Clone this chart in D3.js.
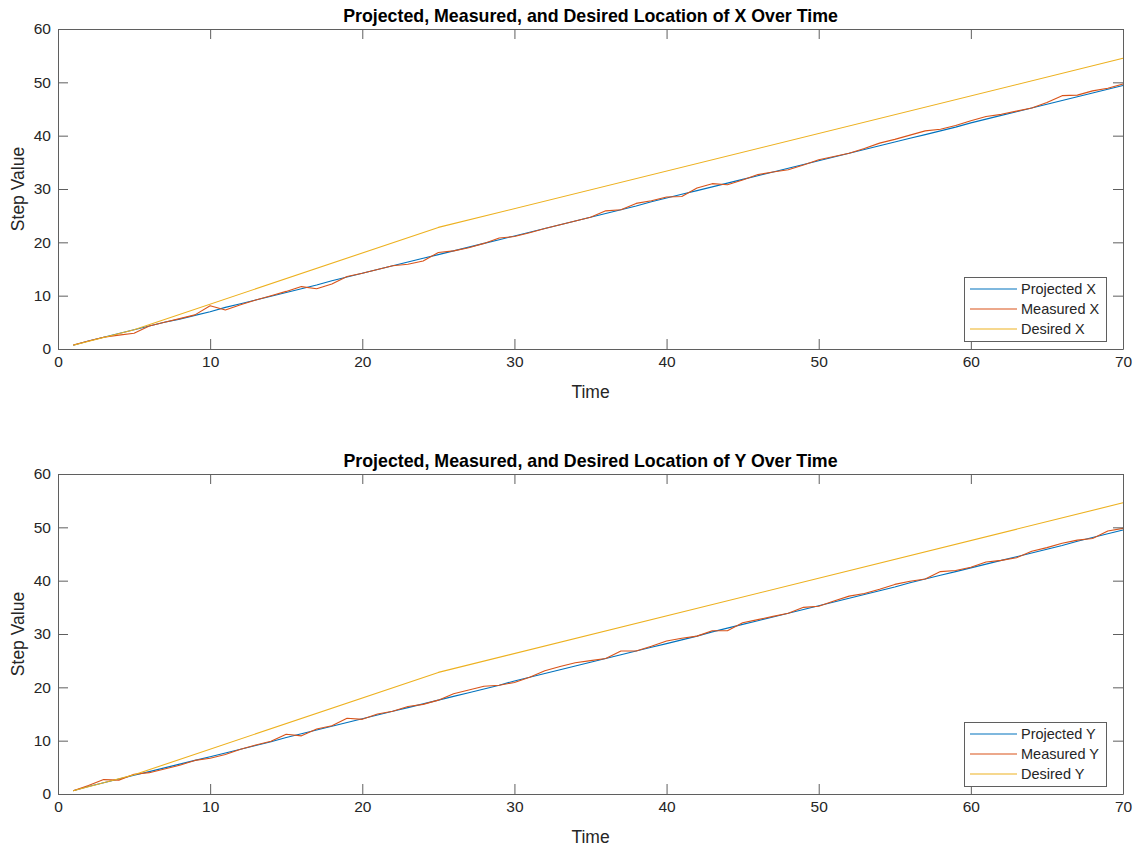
<!DOCTYPE html>
<html>
<head>
<meta charset="utf-8">
<script src="https://cdn.jsdelivr.net/npm/d3@7"></script>
<style>
  body { margin: 0; background: #fff; }
  svg { display: block; font-family: "Liberation Sans", Arial, Helvetica, sans-serif; }
</style>
</head>
<body>
<svg id="chart" width="1138" height="846"></svg>
<script>
// ---------- data ----------
const time = d3.range(1, 71);

const projectedX = [0.7,1.5,2.2,2.9,3.6,4.3,5.0,5.6,6.3,7.0,7.8,8.5,9.2,9.9,10.6,11.3,12.0,12.8,13.5,14.2,
  14.9,15.6,16.3,17.0,17.7,18.4,19.1,19.8,20.5,21.2,21.9,22.6,23.3,24.0,24.7,25.4,26.1,26.8,27.6,28.3,
  29.0,29.7,30.4,31.1,31.8,32.5,33.2,33.9,34.6,35.3,36.0,36.7,37.4,38.1,38.8,39.5,40.2,40.9,41.6,42.4,
  43.1,43.8,44.5,45.2,45.9,46.6,47.3,48.0,48.7,49.4];
const measuredX = [0.75,1.5,2.2,2.6,2.95,4.3,5.0,5.7,6.4,8.1,7.3,8.3,9.2,10.0,10.8,11.7,11.3,12.2,13.6,14.2,
  14.9,15.6,15.9,16.5,18.1,18.4,19.0,19.8,20.8,21.1,21.8,22.6,23.3,24.0,24.7,25.9,26.1,27.3,27.8,28.5,
  28.6,30.2,31.0,30.8,31.7,32.7,33.2,33.6,34.5,35.5,36.1,36.7,37.6,38.6,39.3,40.1,40.9,41.2,41.9,42.8,
  43.6,44.0,44.6,45.2,46.2,47.5,47.6,48.4,48.9,49.7];
const desiredTime = [1, 5, 25, 70];
const desiredX = [0.7, 3.6, 22.8, 54.5];

const projectedY = [0.6,1.4,2.1,2.8,3.5,4.2,4.9,5.6,6.3,7.0,7.7,8.4,9.1,9.8,10.6,11.3,12.0,12.7,13.4,14.1,
  14.8,15.5,16.2,16.9,17.6,18.3,19.0,19.7,20.4,21.2,21.9,22.6,23.3,24.0,24.7,25.4,26.1,26.8,27.5,28.2,
  28.9,29.6,30.4,31.1,31.8,32.5,33.2,33.9,34.6,35.3,36.0,36.7,37.4,38.1,38.8,39.6,40.3,41.0,41.7,42.4,
  43.1,43.8,44.5,45.2,45.9,46.6,47.4,48.1,48.8,49.5];
const measuredY = [0.6,1.6,2.7,2.6,3.7,4.0,4.7,5.4,6.3,6.7,7.4,8.4,9.2,9.9,11.2,10.9,12.2,12.8,14.2,14.0,
  15.0,15.5,16.4,16.8,17.6,18.8,19.5,20.2,20.4,20.9,21.9,23.1,23.9,24.6,25.0,25.4,26.8,26.8,27.7,28.7,
  29.2,29.6,30.6,30.6,32.1,32.7,33.3,33.9,35.0,35.2,36.2,37.1,37.6,38.4,39.3,39.9,40.3,41.7,41.9,42.5,
  43.5,43.8,44.3,45.5,46.2,47.0,47.6,47.9,49.3,49.8];
const desiredY = [0.6, 3.6, 22.8, 54.6];

const xTicks = [0, 10, 20, 30, 40, 50, 60, 70];
const yTicks = [0, 10, 20, 30, 40, 50, 60];

const panels = [
  { title: "Projected, Measured, and Desired Location of X Over Time",
    names: ["Projected X", "Measured X", "Desired X"],
    projected: projectedX, measured: measuredX, desired: desiredX, top: 29 },
  { title: "Projected, Measured, and Desired Location of Y Over Time",
    names: ["Projected Y", "Measured Y", "Desired Y"],
    projected: projectedY, measured: measuredY, desired: desiredY, top: 474 }
];

// ---------- layout ----------
const colors = ["#0072BD", "#D95319", "#EDB120"];
const left = 58, right = 1123, plotH = 320;
const axisColor = "#5f5f5f", textColor = "#262626";

const svg = d3.select("#chart");

const x = d3.scaleLinear().domain([0, 70]).range([left, right]);

panels.forEach(p => {
  const y = d3.scaleLinear().domain([0, 60]).range([p.top + plotH, p.top]);
  const g = svg.append("g");

  // lines
  const line = d3.line().x(d => x(d[0])).y(d => y(d[1]));
  const series = [
    time.map((t, i) => [t, p.projected[i]]),
    time.map((t, i) => [t, p.measured[i]]),
    desiredTime.map((t, i) => [t, p.desired[i]])
  ];
  series.forEach((s, i) => {
    g.append("path").datum(s)
      .attr("fill", "none")
      .attr("stroke", colors[i])
      .attr("stroke-width", 1.1)
      .attr("stroke-linejoin", "round")
      .attr("d", line);
  });

  // axes
  const style = sel => {
    sel.selectAll(".domain").attr("stroke", axisColor);
    sel.selectAll(".tick line").attr("stroke", axisColor);
    sel.selectAll(".tick text").attr("fill", textColor).attr("font-size", 15.5);
  };
  g.append("g").attr("transform", `translate(0,${p.top + plotH})`)
    .call(d3.axisBottom(x).tickValues(xTicks).tickSizeInner(-10).tickSizeOuter(0).tickPadding(7))
    .call(style);
  g.append("g").attr("transform", `translate(0,${p.top})`)
    .call(d3.axisTop(x).tickValues(xTicks).tickSizeInner(-10).tickSizeOuter(0).tickFormat(""))
    .call(style);
  g.append("g").attr("transform", `translate(${left},0)`)
    .call(d3.axisLeft(y).tickValues(yTicks).tickSizeInner(-10).tickSizeOuter(0).tickPadding(7))
    .call(style);
  g.append("g").attr("transform", `translate(${right},0)`)
    .call(d3.axisRight(y).tickValues(yTicks).tickSizeInner(-10).tickSizeOuter(0).tickFormat(""))
    .call(style);

  // title
  g.append("text")
    .attr("x", (left + right) / 2).attr("y", p.top - 7)
    .attr("text-anchor", "middle").attr("font-weight", "bold")
    .attr("font-size", 17.8).attr("fill", "#000")
    .text(p.title);

  // axis labels
  g.append("text")
    .attr("x", (left + right) / 2).attr("y", p.top + plotH + 49)
    .attr("text-anchor", "middle").attr("font-size", 17.5).attr("fill", textColor)
    .text("Time");
  g.append("text")
    .attr("transform", `translate(24,${p.top + plotH / 2}) rotate(-90)`)
    .attr("text-anchor", "middle").attr("font-size", 17.5).attr("fill", textColor)
    .text("Step Value");

  // legend
  const lgRight = 1106, lgBottom = p.top + plotH - 8;
  const rowH = 20, lgH = 64, lgW = 142;
  const lg = g.append("g").attr("transform", `translate(${lgRight - lgW},${lgBottom - lgH})`);
  lg.append("rect").attr("x", 0.5).attr("y", 0.5).attr("width", lgW).attr("height", lgH)
    .attr("fill", "#fff").attr("stroke", axisColor);
  p.names.forEach((n, i) => {
    const cy = 12 + i * rowH;
    lg.append("line").attr("x1", 6).attr("x2", 53).attr("y1", cy).attr("y2", cy)
      .attr("stroke", colors[i]).attr("stroke-width", 1.1);
    lg.append("text").attr("x", 57).attr("y", cy).attr("dy", "0.35em")
      .attr("font-size", 14.5).attr("fill", textColor).text(n);
  });
});
</script>
</body>
</html>
